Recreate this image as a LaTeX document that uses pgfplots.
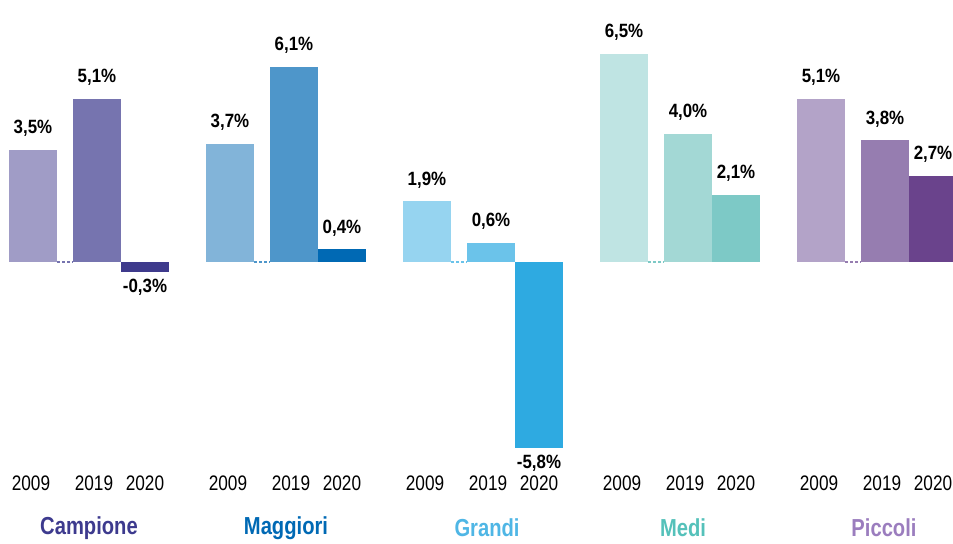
\documentclass[border=0pt]{standalone}
\usepackage{pgfplots}
\pgfplotsset{compat=1.18}
\usepackage{fontspec}
\setmainfont{Liberation Sans}[FakeStretch=0.82]
\newfontfamily\cond{Liberation Sans}[FakeStretch=0.82]
\newfontfamily\valfont{Liberation Sans}[FakeStretch=0.88]
\definecolor{ca}{HTML}{A09CC6}\definecolor{cb}{HTML}{7674AF}\definecolor{cc}{HTML}{3E3A8C}
\definecolor{ma}{HTML}{82B4D9}\definecolor{mb}{HTML}{4E96CA}\definecolor{mc}{HTML}{0069B4}
\definecolor{ga}{HTML}{96D4F0}\definecolor{gb}{HTML}{6BC3EA}\definecolor{gc}{HTML}{2EAAE1}
\definecolor{da}{HTML}{BFE4E3}\definecolor{db}{HTML}{A3D8D5}\definecolor{dc}{HTML}{7DC9C6}
\definecolor{pa}{HTML}{B3A3C8}\definecolor{pb}{HTML}{967DB0}\definecolor{pc}{HTML}{6A438C}
\definecolor{lC}{HTML}{3D3A8E}\definecolor{lM}{HTML}{0069B4}\definecolor{lG}{HTML}{4FB6E5}
\definecolor{lD}{HTML}{55C1BA}\definecolor{lP}{HTML}{9B7DBE}
\pgfplotsset{
  pos/.style={fill=#1, draw=none,
    every node near coord/.append style={anchor=south, yshift=3pt}},
  neg/.style={fill=#1, draw=none,
    every node near coord/.append style={anchor=north, yshift=0pt}},
}
\tikzset{yr/.style={font=\cond\fontsize{10.5}{12}\selectfont},
  grp/.style={font=\cond\bfseries\fontsize{12.3}{14}\selectfont, text=#1}}
\begin{document}
\begin{tikzpicture}
\begin{axis}[
  scale only axis, width=476.5pt, height=271.5pt,
  xmin=0, xmax=953, ymin=-8.78125, ymax=8.1875,
  hide axis, clip=false,
  ybar, bar width=24pt, bar shift=0pt,
  /pgf/number format/assume math mode=true,
  nodes near coords={\pgfmathprintnumber[fixed,fixed zerofill,precision=1,use comma]{\pgfplotspointmeta}\%},
  every node near coord/.append style={font=\valfont\bfseries\fontsize{9.6}{11}\selectfont, text=black},
]
% Campione
\addplot[pos=ca] coordinates {(33,3.5)};
\addplot[pos=cb] coordinates {(97,5.1)};
\addplot[neg=cc] coordinates {(145,-0.3)};
% Maggiori
\addplot[pos=ma] coordinates {(230,3.7)};
\addplot[pos=mb] coordinates {(294,6.1)};
\addplot[pos=mc] coordinates {(342,0.4)};
% Grandi
\addplot[pos=ga] coordinates {(427,1.9)};
\addplot[pos=gb] coordinates {(491,0.6)};
\addplot[neg=gc] coordinates {(539,-5.8)};
% Medi
\addplot[pos=da] coordinates {(624,6.5)};
\addplot[pos=db] coordinates {(688,4.0)};
\addplot[pos=dc] coordinates {(736,2.1)};
% Piccoli
\addplot[pos=pa] coordinates {(821,5.1)};
\addplot[pos=pb] coordinates {(885,3.8)};
\addplot[pos=pc] coordinates {(933,2.7)};
% dashed baseline segments
\draw[cb, line width=0.6pt, dash pattern=on 1.5pt off 1pt] (axis cs:57,0) -- (axis cs:73,0);
\draw[mb, line width=0.6pt, dash pattern=on 1.5pt off 1pt] (axis cs:254,0) -- (axis cs:270,0);
\draw[gb, line width=0.6pt, dash pattern=on 1.5pt off 1pt] (axis cs:451,0) -- (axis cs:467,0);
\draw[dc, line width=0.6pt, dash pattern=on 1.5pt off 1pt] (axis cs:648,0) -- (axis cs:664,0);
\draw[pb, line width=0.6pt, dash pattern=on 1.5pt off 1pt] (axis cs:845,0) -- (axis cs:861,0);
% year labels
\node[yr] at (axis cs:31,-6.906) {2009};
\node[yr] at (axis cs:94,-6.906) {2019};
\node[yr] at (axis cs:145,-6.906) {2020};
\node[yr] at (axis cs:228,-6.906) {2009};
\node[yr] at (axis cs:291,-6.906) {2019};
\node[yr] at (axis cs:342,-6.906) {2020};
\node[yr] at (axis cs:425,-6.906) {2009};
\node[yr] at (axis cs:488,-6.906) {2019};
\node[yr] at (axis cs:539,-6.906) {2020};
\node[yr] at (axis cs:622,-6.906) {2009};
\node[yr] at (axis cs:685,-6.906) {2019};
\node[yr] at (axis cs:736,-6.906) {2020};
\node[yr] at (axis cs:819,-6.906) {2009};
\node[yr] at (axis cs:882,-6.906) {2019};
\node[yr] at (axis cs:933,-6.906) {2020};
% group labels
\node[grp=lC] at (axis cs:89,-8.3125) {Campione};
\node[grp=lM] at (axis cs:286,-8.3125) {Maggiori};
\node[grp=lG] at (axis cs:487,-8.3125) {Grandi};
\node[grp=lD] at (axis cs:683,-8.3125) {Medi};
\node[grp=lP] at (axis cs:884,-8.3125) {Piccoli};
\end{axis}
\pgfresetboundingbox
\useasboundingbox (0,0) rectangle (476.5pt,271.5pt);
\end{tikzpicture}
\end{document}
